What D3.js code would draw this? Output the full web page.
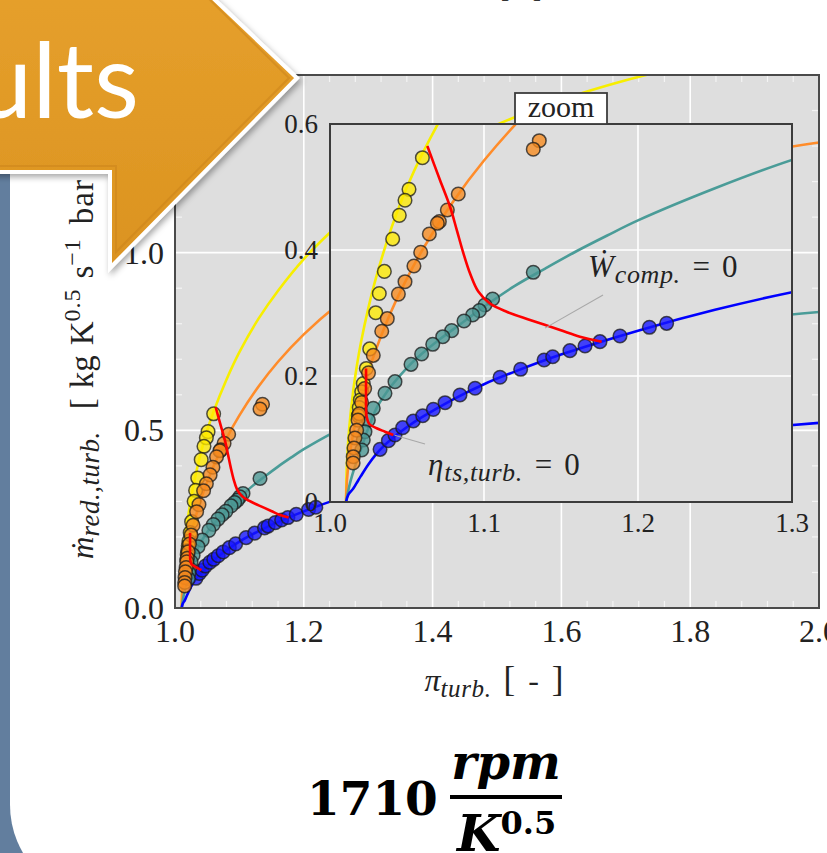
<!DOCTYPE html>
<html><head><meta charset="utf-8">
<script src="https://cdn.jsdelivr.net/npm/d3@7"></script>
<style>html,body{margin:0;padding:0;background:#fff;overflow:hidden}</style>
</head><body><svg id="c" width="827" height="853"></svg>
<script>
// ---------- tick labels ----------
const mainXTicks = [1.0, 1.2, 1.4, 1.6, 1.8, 2.0];
const mainXTickLabels = ["1.0", "1.2", "1.4", "1.6", "1.8", "2.0"];
const mainYTicks = [0.0, 0.5, 1.0, 1.5];
const mainYTickLabels = ["0.0", "0.5", "1.0", "1.5"];
const insetXTicks = [1.0, 1.1, 1.2, 1.3];
const insetXTickLabels = ["1.0", "1.1", "1.2", "1.3"];
const insetYTicks = [0, 0.2, 0.4, 0.6];
const insetYTickLabels = ["0", "0.2", "0.4", "0.6"];

// ---------- measured points [pi_turb, m_red] ----------
const yellowPoints = [[1.0600,0.5465],[1.0513,0.4963],[1.0487,0.479],[1.0450,0.455],[1.0407,0.4175],[1.0353,0.366],[1.0320,0.331],[1.0297,0.3005],[1.0258,0.243],[1.0236,0.212],[1.0216,0.188],[1.0206,0.175],[1.0197,0.162],[1.0190,0.150],[1.0184,0.137]];
const orangePoints = [[1.1359,0.5735],[1.1320,0.560],[1.0833,0.4889],[1.0762,0.4635],[1.0710,0.445],[1.0697,0.4424],[1.0645,0.4254],[1.0589,0.3963],[1.0545,0.3746],[1.0487,0.3497],[1.0444,0.330],[1.0372,0.291],[1.0336,0.271],[1.0281,0.2328],[1.0250,0.205],[1.0225,0.180],[1.0205,0.158],[1.0190,0.140],[1.0182,0.130],[1.0173,0.114],[1.0162,0.1016],[1.0156,0.0857],[1.0151,0.0719],[1.0150,0.0619]];
const tealPoints = [[1.1320,0.3646],[1.1056,0.3222],[1.1006,0.3127],[1.0970,0.3037],[1.0926,0.2968],[1.0870,0.2873],[1.0790,0.272],[1.0732,0.2624],[1.0667,0.2503],[1.0595,0.2349],[1.0526,0.2185],[1.0422,0.191],[1.0357,0.1725],[1.0281,0.1487],[1.0249,0.130],[1.0227,0.1116],[1.0216,0.0984],[1.0206,0.0825]];
const bluePoints = [[1.0325,0.0836],[1.0379,0.0974],[1.0422,0.1063],[1.0472,0.118],[1.0541,0.1286],[1.0602,0.137],[1.0671,0.147],[1.0747,0.1576],[1.0844,0.1698],[1.0942,0.1805],[1.1104,0.198],[1.1238,0.2106],[1.1390,0.2254],[1.1446,0.2306],[1.1558,0.2402],[1.1656,0.2476],[1.1753,0.2545],[1.1883,0.2635],[1.2074,0.2773],[1.2186,0.2836]];

// ---------- model curves ----------
const yellowCurve = [[1.0104,0.0],[1.011,0.063],[1.0125,0.118],[1.015,0.175],[1.0175,0.217],[1.02,0.252],[1.025,0.309],[1.03,0.357],[1.04,0.436],[1.05,0.50],[1.06,0.553],[1.08,0.643],[1.10,0.72],[1.13,0.815],[1.16,0.893],[1.20,0.982],[1.25,1.072],[1.30,1.148],[1.40,1.268],[1.50,1.36],[1.60,1.43],[1.70,1.485],[1.80,1.53]];
const orangeCurve = [[1.0104,0.0],[1.011,0.034],[1.0125,0.07],[1.015,0.108],[1.0175,0.138],[1.02,0.164],[1.025,0.207],[1.03,0.243],[1.04,0.304],[1.05,0.355],[1.06,0.40],[1.08,0.477],[1.10,0.542],[1.13,0.624],[1.16,0.693],[1.20,0.770],[1.25,0.850],[1.30,0.917],[1.40,1.021],[1.50,1.10],[1.60,1.161],[1.70,1.21],[1.80,1.249],[1.90,1.282],[2.0,1.31]];
const tealCurve = [[1.0104,0.0],[1.013,0.03],[1.016,0.055],[1.02,0.083],[1.025,0.118],[1.03,0.148],[1.035,0.168],[1.04,0.185],[1.05,0.213],[1.06,0.236],[1.07,0.256],[1.08,0.274],[1.09,0.292],[1.10,0.31],[1.12,0.343],[1.14,0.371],[1.16,0.398],[1.18,0.423],[1.20,0.447],[1.25,0.498],[1.30,0.543],[1.40,0.615],[1.50,0.672],[1.60,0.718],[1.70,0.757],[1.80,0.789],[1.90,0.815],[2.0,0.833]];
const blueCurve = [[1.0104,0.0],[1.012,0.012],[1.015,0.021],[1.0175,0.031],[1.02,0.041],[1.025,0.060],[1.03,0.076],[1.035,0.089],[1.04,0.100],[1.05,0.119],[1.06,0.135],[1.08,0.163],[1.10,0.187],[1.12,0.207],[1.15,0.234],[1.20,0.272],[1.25,0.305],[1.30,0.333],[1.40,0.378],[1.50,0.413],[1.60,0.442],[1.70,0.466],[1.80,0.488],[1.90,0.506],[2.0,0.521]];
const wcompZeroCurve = [[1.0632,0.565],[1.0714,0.511],[1.0779,0.469],[1.0823,0.432],[1.0866,0.395],[1.0909,0.363],[1.0963,0.334],[1.1039,0.315],[1.1147,0.302],[1.1299,0.289],[1.1494,0.273],[1.1623,0.2624],[1.1764,0.2545]];
const etaZeroCurve = [[1.0234,0.212],[1.0234,0.188],[1.0234,0.1614],[1.0238,0.1354],[1.0255,0.1238],[1.0303,0.117],[1.0357,0.1116],[1.0411,0.1063]];
const wcompLeader = [[1.1396,0.276],[1.1773,0.3286]];
const etaLeader = [[1.042,0.106],[1.0617,0.092]];

const series = [
  {pts: bluePoints,   curve: blueCurve,   line: "#0000ff", fill: "#1414ff"},
  {pts: tealPoints,   curve: tealCurve,   line: "#4a9c98", fill: "#4a9793"},
  {pts: yellowPoints, curve: yellowCurve, line: "#f7ee00", fill: "#ffea00"},
  {pts: orangePoints, curve: orangeCurve, line: "#ff8c2a", fill: "#f78a1e"}
];
const lineOrder = [series[2], series[3], series[1], series[0]];

const svg = d3.select("#c");
const defs = svg.append("defs");

// ---------- slide background ----------
svg.append("rect").attr("x",0).attr("y",0).attr("width",827).attr("height",853).attr("fill","#fff");
svg.append("rect").attr("x",0).attr("y",150).attr("width",60).attr("height",720).attr("fill","#627e9e");
svg.append("rect").attr("x",10).attr("y",-200).attr("width",1000).attr("height",1100).attr("rx",95).attr("fill","#fff");

// top fragment of previous axis label
svg.append("text").attr("x",521).attr("y",-3).attr("text-anchor","middle")
  .attr("font-family","Liberation Serif").attr("font-size",28).attr("fill","#333").text("[ - ]");

// ---------- scales ----------
const xM = d3.scaleLinear().domain([1.0, 2.0]).range([175, 819]);
const yM = d3.scaleLinear().domain([0.0, 1.5]).range([608, 75]);
const xI = d3.scaleLinear().domain([1.0, 1.3]).range([330, 792]);
const yI = d3.scaleLinear().domain([0.0, 0.6]).range([502, 124]);

function clip(id, xs, ys) {
  const [x0, x1] = xs.range(), [y0, y1] = ys.range();
  defs.append("clipPath").attr("id", id).append("rect")
    .attr("x", x0).attr("y", y1).attr("width", x1 - x0).attr("height", y0 - y1);
}
clip("clipM", xM, yM);
clip("clipI", xI, yI);

function panel(xs, ys, clipId, gridX, gridY, minorX, minorY) {
  const [x0, x1] = xs.range(), [y0, y1] = ys.range();
  const g = svg.append("g");
  g.append("rect").attr("x", x0).attr("y", y1).attr("width", x1 - x0).attr("height", y0 - y1).attr("fill", "#dedede");
  g.selectAll(".gx").data(gridX).join("line")
    .attr("x1", d => xs(d)).attr("x2", d => xs(d)).attr("y1", y0).attr("y2", y1)
    .attr("stroke", "#fff").attr("stroke-width", 1.6);
  g.selectAll(".gy").data(gridY).join("line")
    .attr("y1", d => ys(d)).attr("y2", d => ys(d)).attr("x1", x0).attr("x2", x1)
    .attr("stroke", "#fff").attr("stroke-width", 1.6);
  const mt = g.append("g").attr("stroke", "#f4f4f4").attr("stroke-width", 1.2);
  minorX.forEach(v => {
    mt.append("line").attr("x1", xs(v)).attr("x2", xs(v)).attr("y1", y0).attr("y2", y0 - 7);
    mt.append("line").attr("x1", xs(v)).attr("x2", xs(v)).attr("y1", y1).attr("y2", y1 + 7);
  });
  minorY.forEach(v => {
    mt.append("line").attr("y1", ys(v)).attr("y2", ys(v)).attr("x1", x0).attr("x2", x0 + 7);
    mt.append("line").attr("y1", ys(v)).attr("y2", ys(v)).attr("x1", x1).attr("x2", x1 - 7);
  });
  const c = g.append("g").attr("clip-path", `url(#${clipId})`);
  const line = d3.line().x(d => xs(d[0])).y(d => ys(d[1])).curve(d3.curveCatmullRom.alpha(0.5));
  lineOrder.forEach(s => {
    c.append("path").attr("d", line(s.curve)).attr("fill", "none").attr("stroke", s.line).attr("stroke-width", 2.6);
  });
  series.forEach(s => {
    c.append("g").selectAll("circle").data(s.pts).join("circle")
      .attr("cx", d => xs(d[0])).attr("cy", d => ys(d[1])).attr("r", 6.8)
      .attr("fill", s.fill).attr("fill-opacity", 0.78)
      .attr("stroke", "#1a1a1a").attr("stroke-opacity", 0.75).attr("stroke-width", 1.5);
  });
  [wcompZeroCurve, etaZeroCurve].forEach(cv => {
    c.append("path").attr("d", line(cv)).attr("fill", "none").attr("stroke", "#ff0000").attr("stroke-width", 2.6);
  });
  return {g, c, line};
}

// ---------- main axes ----------
const minorXMain = d3.range(1.04, 2.0, 0.04).filter(v => Math.abs(v * 5 - Math.round(v * 5)) > 1e-6);
const minorYMain = d3.range(0.1, 1.5, 0.1).filter(v => Math.abs(v * 2 - Math.round(v * 2)) > 1e-6);
const mainP = panel(xM, yM, "clipM", [1.2, 1.4, 1.6, 1.8], [0.5, 1.0], minorXMain, minorYMain);

// inset tick labels (drawn over the main axes area)
const tickFont = "Liberation Serif";
svg.append("g").selectAll("text").data(insetYTicks).join("text")
  .attr("x", 318).attr("y", d => yI(d) + 9).attr("text-anchor", "end")
  .attr("font-family", tickFont).attr("font-size", 27).attr("fill", "#222")
  .text((d, i) => insetYTickLabels[i]);
svg.append("g").selectAll("text").data(insetXTicks).join("text")
  .attr("x", d => xI(d)).attr("y", 532).attr("text-anchor", "middle")
  .attr("font-family", tickFont).attr("font-size", 27).attr("fill", "#222")
  .text((d, i) => insetXTickLabels[i]);

// main border
svg.append("rect").attr("x", 175).attr("y", 75).attr("width", 644).attr("height", 533)
  .attr("fill", "none").attr("stroke", "#4a4a4a").attr("stroke-width", 2);

// ---------- inset ----------
const insetP = panel(xI, yI, "clipI", [1.1, 1.2], [0.2, 0.4], [], []);
const lead = d3.line().x(d => xI(d[0])).y(d => yI(d[1]));
insetP.c.append("path").attr("d", lead(wcompLeader)).attr("stroke", "#a8a8a8").attr("stroke-width", 1.1).attr("fill", "none");
insetP.c.append("path").attr("d", lead(etaLeader)).attr("stroke", "#a8a8a8").attr("stroke-width", 1.1).attr("fill", "none");
svg.append("rect").attr("x", 330).attr("y", 124).attr("width", 462).attr("height", 378)
  .attr("fill", "none").attr("stroke", "#3c3c3c").attr("stroke-width", 2);

// annotations
function mathLabel(x, y, sym, sub, size, subSize) {
  const t = svg.append("text").attr("x", x).attr("y", y)
    .attr("font-family", tickFont).attr("font-size", size).attr("fill", "#222");
  t.append("tspan").attr("font-style", "italic").text(sym);
  t.append("tspan").attr("font-style", "italic").attr("font-size", subSize).attr("letter-spacing", 0.6).attr("dx", 1).attr("dy", 6).text(sub);
  t.append("tspan").attr("dx", 12).attr("dy", -6).text("=");
  t.append("tspan").attr("dx", 12).text("0");
  return t;
}
mathLabel(xI(1.1675), yI(0.357), "Ẇ", "comp.", 31, 26);
mathLabel(xI(1.0636), yI(0.043), "η", "ts,turb.", 31, 26);

// zoom label box
svg.append("rect").attr("x", 515).attr("y", 93).attr("width", 92).attr("height", 31)
  .attr("fill", "#fff").attr("stroke", "#3c3c3c").attr("stroke-width", 1.8);
svg.append("text").attr("x", 561).attr("y", 117).attr("text-anchor", "middle")
  .attr("font-family", tickFont).attr("font-size", 30).attr("fill", "#222").text("zoom");

// ---------- main tick labels ----------
svg.append("g").selectAll("text").data(mainXTicks).join("text")
  .attr("x", d => xM(d)).attr("y", 642).attr("text-anchor", "middle")
  .attr("font-family", tickFont).attr("font-size", 32).attr("fill", "#222")
  .text((d, i) => mainXTickLabels[i]);
svg.append("g").selectAll("text").data(mainYTicks).join("text")
  .attr("x", 164).attr("y", d => yM(d) + 11).attr("text-anchor", "end")
  .attr("font-family", tickFont).attr("font-size", 32).attr("fill", "#222")
  .text((d, i) => mainYTickLabels[i]);

// axis titles
const xt = svg.append("text").attr("x", 494).attr("y", 691).attr("text-anchor", "middle")
  .attr("font-family", tickFont).attr("font-size", 32).attr("fill", "#222");
xt.append("tspan").attr("font-style", "italic").text("π");
xt.append("tspan").attr("font-style", "italic").attr("font-size", 25).attr("letter-spacing", 0.6).attr("dy", 6).text("turb.");
xt.append("tspan").attr("dx", 12).attr("dy", -6).attr("font-size", 35).text("[");
xt.append("tspan").attr("dx", 13).text("-");
xt.append("tspan").attr("dx", 13).attr("font-size", 35).text("]");

const yt = svg.append("text").attr("transform", "translate(93,559) rotate(-90)")
  .attr("font-family", tickFont).attr("font-size", 31).attr("fill", "#222");
yt.append("tspan").attr("font-style", "italic").text("ṁ");
yt.append("tspan").attr("font-style", "italic").attr("font-size", 27).attr("letter-spacing", 0.5).attr("dy", 6).text("red.,turb.");
yt.append("tspan").attr("dx", 22).attr("dy", -6).attr("font-size", 33).text("[");
yt.append("tspan").attr("dx", 10).attr("font-size", 33).text("kg");
yt.append("tspan").attr("dx", 10).attr("font-size", 33).text("K");
yt.append("tspan").attr("font-size", 24).attr("letter-spacing", 1).attr("dy", -13).text("0.5");
yt.append("tspan").attr("dx", 10).attr("dy", 13).attr("font-size", 33).text("s");
yt.append("tspan").attr("font-size", 24).attr("letter-spacing", 1).attr("dy", -13).text("−1");
yt.append("tspan").attr("dx", 14).attr("dy", 13).attr("font-size", 33).attr("letter-spacing", 1).text("bar");
yt.append("tspan").attr("dx", 12).attr("font-size", 33).text("]");

// ---------- bottom formula ----------
svg.append("text").attr("x", 307).attr("y", 815).attr("font-family", "DejaVu Serif")
  .attr("font-weight", "bold").attr("font-size", 47).attr("fill", "#000").text("1710");
svg.append("text").attr("x", 506).attr("y", 779).attr("text-anchor", "middle").attr("font-family", "DejaVu Serif")
  .attr("font-weight", "bold").attr("font-style", "italic").attr("font-size", 48).attr("fill", "#000").text("rpm");
svg.append("line").attr("x1", 450).attr("x2", 562).attr("y1", 797).attr("y2", 797).attr("stroke", "#000").attr("stroke-width", 4);
const kt = svg.append("text").attr("x", 457).attr("y", 851).attr("font-family", "DejaVu Serif")
  .attr("font-weight", "bold").attr("fill", "#000").attr("font-size", 50);
kt.append("tspan").attr("font-style", "italic").text("K");
kt.append("tspan").attr("font-size", 32).attr("dy", -17).text("0.5");

// ---------- banner ----------
const grad = defs.append("linearGradient").attr("id", "bg").attr("x1", 0).attr("y1", 0).attr("x2", 0).attr("y2", 1);
grad.append("stop").attr("offset", "0%").attr("stop-color", "#e6a02c");
grad.append("stop").attr("offset", "100%").attr("stop-color", "#db9320");
const f = defs.append("filter").attr("id", "sh").attr("x", "-20%").attr("y", "-20%").attr("width", "140%").attr("height", "140%");
f.append("feDropShadow").attr("dx", 2).attr("dy", 3).attr("stdDeviation", 3).attr("flood-color", "#000").attr("flood-opacity", 0.35);
const bannerPts = [[-20,-20],[194,-20],[297,78],[110,268],[110,172],[-20,172]];
svg.append("polygon").attr("points", bannerPts.map(p => p.join(",")).join(" "))
  .attr("fill", "url(#bg)").attr("stroke", "#fff").attr("stroke-width", 4).attr("stroke-linejoin", "miter")
  .attr("filter", "url(#sh)");
const innerPts = [[-20,-20],[190,-20],[289,78],[116,252],[116,166],[-20,166]];
svg.append("polygon").attr("points", innerPts.map(p => p.join(",")).join(" "))
  .attr("fill", "none").attr("stroke", "#c9811a").attr("stroke-width", 2).attr("stroke-opacity", 0.5);
svg.append("text").attr("x", 139).attr("y", 118).attr("text-anchor", "end")
  .attr("font-family", "Lato").attr("font-size", 104).attr("fill", "#fff").text("Results");
</script></body></html>
